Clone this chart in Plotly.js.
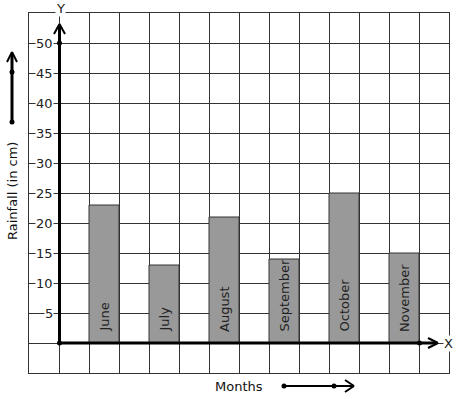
<!DOCTYPE html>
<html><head><meta charset="utf-8">
<script src="https://cdn.plot.ly/plotly-3.0.1.min.js"></script>
<style>html,body{margin:0;padding:0;background:#fff}#chart{width:457px;height:399px}</style>
</head><body><div id="chart"></div>
<script>
const months = ["June","July","August","September","October","November"];
const rainfall = [23, 13, 21, 14, 25, 15];
const yTicks = [5,10,15,20,25,30,35,40,45,50];

const W=457,H=399,ML=29,MR=8,MT=13,MB=26;
const PW=W-ML-MR, PH=H-MT-MB;
const px=x=>(x-ML)/PW, py=y=>(H-MB-y)/PH;
const FONT="DejaVu Sans, sans-serif";

const xs = months.map((m,i)=>1.5+2*i);
const trace = {
  type:'bar', x:xs, y:rainfall, width:1,
  marker:{color:'#999999',line:{color:'#333',width:1}},
  hoverinfo:'none'
};

const shapes=[];
const L=(x0,y0,x1,y1,w)=>shapes.push({type:'line',xref:'paper',yref:'paper',x0:px(x0),y0:py(y0),x1:px(x1),y1:py(y1),line:{color:'#000',width:w||3}});
const D=(x,y)=>shapes.push({type:'circle',xref:'paper',yref:'paper',x0:px(x-2.5),x1:px(x+2.5),y0:py(y+2.5),y1:py(y-2.5),fillcolor:'#000',line:{color:'#000',width:0}});
// Y axis
L(59.5,343,59.5,25); L(54,34,59.5,24,2); L(65,34,59.5,24,2); D(59.5,43); D(59.5,343);
// X axis
L(59.5,343,437,343); L(428,338,438,343,2); L(428,348,438,343,2); D(419.5,343);
// left arrow
L(12,122,12,54); L(7,62,12,52,2); L(17,62,12,52,2); D(12,122); D(12,72);
// bottom arrow
L(284,386,352,386,2); L(345,380,354,386,2); L(345,392,354,386,2); D(284,386); D(334,386);

const A=(x,y,text,extra)=>Object.assign({x:px(x),y:py(y),xref:'paper',yref:'paper',text:text,showarrow:false,xanchor:'center',yanchor:'middle',font:{family:FONT,size:13,color:'#222'}},extra||{});
const ann = yTicks.map(v=>({x:px(54),y:v,xref:'paper',yref:'y',text:String(v),showarrow:false,xanchor:'right',yanchor:'middle',bgcolor:'#fff',borderpad:0,font:{family:FONT,size:13,color:'#222'}}));
months.forEach((m,i)=>ann.push({x:xs[i],y:0,xref:'x',yref:'y',text:m,textangle:-90,showarrow:false,xanchor:'center',yanchor:'bottom',yshift:10,borderpad:0,font:{family:FONT,size:13,color:'#222'}}));
ann.push(A(60,8,'Y',{bgcolor:'#fff',borderpad:0}));
ann.push(A(448,343,'X',{bgcolor:'#fff',borderpad:0}));
ann.push(A(239,386,'Months',{font:{family:FONT,size:13,color:'#111'}}));
ann.push(A(12,191,'Rainfall (in cm)',{textangle:-90,font:{family:FONT,size:13,color:'#111'}}));

const layout={
  width:W,height:H,margin:{l:ML,r:MR,t:MT,b:MB,pad:0},
  paper_bgcolor:'#fff',plot_bgcolor:'#fff',showlegend:false,
  xaxis:{range:[-1,13],dtick:1,tick0:0,showgrid:true,gridcolor:'#333',gridwidth:1,zeroline:false,showticklabels:false,ticks:'',showline:true,mirror:true,linecolor:'#333',linewidth:1,fixedrange:true},
  yaxis:{range:[-5,55],dtick:5,tick0:0,showgrid:true,gridcolor:'#333',gridwidth:1,zeroline:false,showticklabels:false,ticks:'',showline:true,mirror:true,linecolor:'#333',linewidth:1,fixedrange:true},
  shapes:shapes,annotations:ann
};
Plotly.newPlot('chart',[trace],layout,{displayModeBar:false,staticPlot:true});
</script></body></html>
